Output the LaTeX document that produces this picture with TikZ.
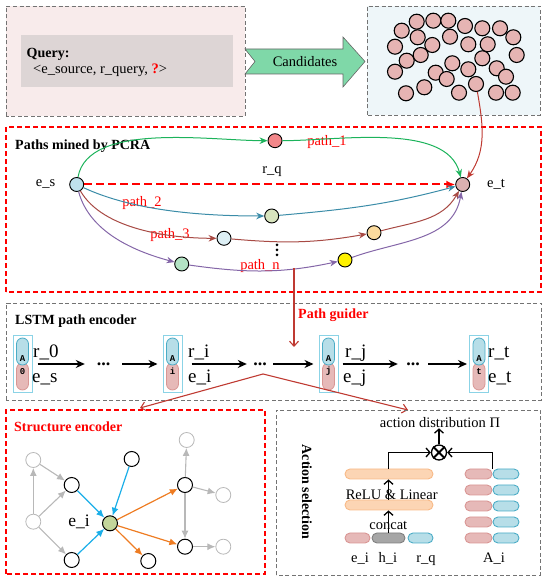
\documentclass[tikz,border=0pt]{standalone}
\usepackage{fontspec}
\setmainfont{Liberation Serif}
\setmonofont{Liberation Mono}
\usepackage{xcolor}
\usepackage{tikz}
\usetikzlibrary{arrows.meta,positioning,calc}

\definecolor{querybg}{HTML}{F8EBEB}
\definecolor{queryin}{HTML}{DDD5D5}
\definecolor{candbg}{HTML}{EEF6F9}
\definecolor{candpink}{HTML}{E6B4B3}
\definecolor{candgreen}{HTML}{7FD8A8}
\definecolor{linkred}{HTML}{BF3A32}
\definecolor{pgreen}{HTML}{1CB35B}
\definecolor{pteal}{HTML}{3B8CA8}
\definecolor{pbrown}{HTML}{A84A44}
\definecolor{ppurple}{HTML}{8466A8}
\definecolor{esblue}{HTML}{BFE1ED}
\definecolor{etpink}{HTML}{DBB1B1}
\definecolor{rqred}{HTML}{F3878A}
\definecolor{midolive}{HTML}{D8E4BE}
\definecolor{midblue}{HTML}{DDEFF5}
\definecolor{midorange}{HTML}{FBDB9E}
\definecolor{midgreen}{HTML}{B3E3C4}
\definecolor{cellline}{HTML}{8BD3E6}
\definecolor{capblue}{HTML}{B7DEE8}
\definecolor{capblueline}{HTML}{4BACC6}
\definecolor{cappink}{HTML}{E6B9B8}
\definecolor{cappinkline}{HTML}{D99694}
\definecolor{eigreen}{HTML}{C3D69B}
\definecolor{skyedge}{HTML}{1AAEE8}
\definecolor{orangeedge}{HTML}{EE7C22}
\definecolor{barorange}{HTML}{FCD5B4}
\definecolor{barorangeline}{HTML}{F8BA88}
\definecolor{bargray}{HTML}{A6A6A6}
\definecolor{bargrayline}{HTML}{7F7F7F}

\begin{document}
\begin{tikzpicture}[
      x=1pt, y=1pt, inner sep=0pt,
      font=\fontsize{14.5}{17}\selectfont,
      title/.style={font=\fontsize{14}{17}\selectfont\bfseries, anchor=base west},
      panel/.style={draw=black!55, line width=0.9pt, dash pattern=on 4pt off 2.5pt},
      redpanel/.style={draw=red, line width=1.3pt, dash pattern=on 5pt off 3pt},
      cand/.style={circle, draw=black, line width=1.1pt, fill=candpink, minimum size=15pt},
      ent/.style={circle, draw=black, line width=0.9pt, minimum size=14pt},
      plabel/.style={text=red},
      mine/.style={-{Stealth[length=8pt,width=6.5pt]}, line width=1pt},
      dashline/.style={red, line width=2pt, dash pattern=on 8pt off 4pt, -{Latex[length=9pt,width=8pt]}},
      seq/.style={-{Stealth[length=9pt,width=8pt]}, line width=1.4pt},
      gap/.style={font=\fontsize{18}{18}\selectfont\bfseries},
      cellbox/.style={draw=cellline, line width=1pt, minimum width=19pt, minimum height=57pt},
      capA/.style={draw=capblueline, fill=capblue, rounded corners=6pt, minimum width=12pt, minimum height=27pt, line width=0.8pt},
      capB/.style={draw=cappinkline, fill=cappink, rounded corners=6pt, minimum width=12pt, minimum height=27pt, line width=0.8pt},
      celltxt/.style={font=\fontsize{9}{9}\selectfont\ttfamily\bfseries},
      lbl/.style={font=\fontsize{19}{20}\selectfont, anchor=base west},
      guide/.style={linkred, line width=1.1pt, -{Straight Barb[length=5pt,width=9pt]}},
      gnode/.style={circle, draw=black!28, fill=white, minimum size=15pt, line width=0.8pt},
      bnode/.style={circle, draw=black, fill=white, minimum size=15pt, line width=1pt},
      gedge/.style={black!28, line width=1.1pt, -{Latex[length=8pt,width=7pt]}},
      bedge/.style={skyedge, line width=1.2pt, -{Latex[length=8pt,width=7pt]}},
      oedge/.style={orangeedge, line width=1.2pt, -{Latex[length=8pt,width=7pt]}},
      bar/.style={rounded corners=5pt, minimum height=10pt, line width=0.9pt},
      up/.style={-{Straight Barb[length=4pt,width=9pt]}, line width=1.3pt},
    ]
    \useasboundingbox (0,0) rectangle (550,583);

    % query and candidates
    \draw [panel, fill=querybg] (6,467) rectangle (245,577);
    \fill [queryin] (21,496) rectangle (233,548);
    \node [title] (qtitle) at (26.5,525.7) {Query:};
    \node [anchor=base west] (qtriple) at (33,509) {<e\_source, r\_query, \textcolor{red}{\textbf{?}}>};
    \draw [draw=black!60, fill=candgreen, line width=0.6pt] (245,534) -- (343,534) -- (343,546) -- (365,521.5) -- (343,496) -- (343,509) -- (245,509) -- (255,521.5) -- cycle;
    \node (candtxt) at (305,521) {Candidates};
    \draw [panel, fill=candbg] (367,468) rectangle (540,577);
    \foreach \cx/\cy [count=\k] in {416.7/561.3, 433.3/562.3, 448.3/562.3, 465/557, 482.3/554.7, 500/554.7,
        401.7/552.3, 513.3/545.7, 417.7/545.7, 450/546.3, 468.3/538.7, 487.7/538.7, 395/536.3, 432.3/538,
        516.7/528, 406.7/522.3, 420.7/528, 452.3/519.7, 482.3/524.7, 496.7/514.7, 506/506.3, 468.3/513.7,
        395/511.3, 435.7/510.3, 446.7/504, 424.3/495.7, 459/490.3, 406/489.7, 496/490.3, 512.7/490.3}
      \node [cand] (c\k) at (\cx,\cy) {};
    \node [cand] (cpick) at (476,499) {};

    % paths mined by PCRA
    \draw [redpanel] (6,291) rectangle (541,456);
    \node [title] (pcra) at (15,433) {Paths mined by PCRA};
    \node [ent, fill=esblue] (es) at (76.7,398.5) {};
    \node [ent, fill=etpink] (et) at (462.7,398.5) {};
    \node [ent, fill=rqred] (rq) at (275,442.3) {};
    \node [ent, fill=midolive] (m2) at (271.7,367) {};
    \node [ent, fill=midblue] (m3a) at (224,344.7) {};
    \node [ent, fill=midorange] (m3b) at (374,350.3) {};
    \node [ent, fill=midgreen] (m4a) at (181.7,319) {};
    \node [ent, fill=yellow] (m4b) at (345,323) {};
    \node (eslab) at (45.5,398.5) {e\_s};
    \node (etlab) at (496,399) {e\_t};
    \node (rqlab) at (272,411) {r\_q};
    \node [plabel] (p1lab) at (327,441.3) {path\_1};
    \node [plabel] (p2lab) at (142,380) {path\_2};
    \node [plabel] (p3lab) at (170,348) {path\_3};
    \node [plabel] (pnlab) at (260,317) {path\_n};
    \foreach \d in {0,1,2}
      \fill (277,338-5*\d) circle (1.5);
    \draw [mine, pgreen] (es) to [out=80, in=180, looseness=0.75] (rq);
    \draw [mine, pgreen] (rq) to [out=0, in=105, looseness=0.8] (et);
    \draw [dashline] (es) -- (et);
    \draw [mine, pteal] (es) to [out=-25, in=180, looseness=0.8] (m2);
    \draw [mine, pteal] (m2) to [out=5, in=-165] (et);
    \draw [mine, pbrown] (es) to [out=-60, in=180, looseness=0.8] (m3a);
    \draw [mine, pbrown] (m3a) to [out=-5, in=190] (m3b);
    \draw [mine, pbrown] (m3b) to [out=15, in=-120] (et);
    \draw [mine, ppurple] (es) to [out=-75, in=165, looseness=0.9] (m4a);
    \draw [mine, ppurple] (m4a) to [out=-8, in=192] (m4b);
    \draw [mine, ppurple] (m4b) to [out=20, in=-100] (et);
    \draw [mine, linkred] (cpick) to [out=-80, in=55] (et);

    % LSTM path encoder
    \draw [panel] (6,183) rectangle (541,280);
    \node [title] (lstmtitle) at (15,258) {LSTM path encoder};
    \foreach \x/\n in {22.5/0, 172.5/i, 328.5/j, 479/t} {
      \node [capB] (pb\n) at (\x,206.5) {};
      \node [capA] (pa\n) at (\x,231.5) {};
      \node [cellbox] (cell\n) at (\x,219) {};
      \node [celltxt] at (\x,224.5) {A};
      \node [celltxt] at (\x,211.5) {\n};
    }
    \node [lbl] at (33,225) {r\_0};
    \node [lbl] at (32,200) {e\_s};
    \node [lbl] at (188,225) {r\_i};
    \node [lbl] at (188,200) {e\_i};
    \node [lbl] at (345,225) {r\_j};
    \node [lbl] at (343,200) {e\_j};
    \node [lbl] at (488,225) {r\_t};
    \node [lbl] at (488,200) {e\_t};
    \node [gap, minimum width=37pt] (gap1) at (103.5,219) {...};
    \node [gap, minimum width=26pt] (gap2) at (260,219) {...};
    \node [gap, minimum width=30pt] (gap3) at (413,219) {...};
    \draw [seq, shorten <=5pt] (cell0) -- (gap1);
    \draw [seq, shorten >=5pt] (gap1) -- (celli);
    \draw [seq, shorten <=9pt] (celli) -- (gap2);
    \draw [seq, shorten >=5pt] (gap2) -- (cellj);
    \draw [seq, shorten <=4pt] (cellj) -- (gap3);
    \draw [seq, shorten >=2pt] (gap3) -- (cellt);

    % guiders
    \coordinate (guidetop) at (294,315);
    \coordinate (guidebot) at (294,236);
    \draw [guide] (guidetop) -- (guidebot);
    \node [title, text=red] (guidelab) at (298,264.7) {Path guider};
    \coordinate (split) at (263,209);
    \coordinate (toenc) at (140,175);
    \coordinate (toact) at (408,173);
    \draw [guide] (split) -- (toenc);
    \draw [guide] (split) -- (toact);

    % structure encoder
    \draw [redpanel] (6,9) rectangle (265,173);
    \node [title, text=red] (enctitle) at (14,151.3) {Structure encoder};
    \node [gnode] (g1) at (33.3,123) {};
    \node [gnode] (g2) at (33.3,61.3) {};
    \node [gnode] (g3) at (186.7,143) {};
    \node [gnode] (g4) at (223.3,88) {};
    \node [gnode] (g5) at (223.3,36.3) {};
    \node [bnode] (b1) at (71.7,98) {};
    \node [bnode] (b2) at (71.7,23) {};
    \node [bnode] (b3) at (131.7,124) {};
    \node [bnode] (b4) at (148.3,22) {};
    \node [bnode] (b5) at (185,98) {};
    \node [bnode] (b6) at (185,36.3) {};
    \node [bnode, fill=eigreen] (ei) at (110,59.7) {};
    \node [font=\fontsize{17.5}{18}\selectfont] (eilab) at (79,61) {e\_i};
    \draw [gedge] (g2) -- (g1);
    \draw [gedge] (g1) -- (b1);
    \draw [gedge] (g2) -- (b1);
    \draw [gedge] (g2) -- (b2);
    \draw [gedge] (b5) -- (g3);
    \draw [gedge] (b5) -- (g4);
    \draw [gedge] (b5) -- (b6);
    \draw [gedge] (b6) -- (g5);
    \draw [bedge] (b1) -- (ei);
    \draw [bedge] (b3) -- (ei);
    \draw [bedge] (b2) -- (ei);
    \draw [oedge] (ei) -- (b5);
    \draw [oedge] (ei) -- (b6);
    \draw [oedge] (ei) -- (b4);

    % action selection
    \draw [panel] (276,8) rectangle (540,173);
    \node [title, anchor=center, rotate=-90] (acttitle) at (307,91) {Action selection};
    \node (pi) at (440,160) {action distribution Π};
    \node [circle, draw, line width=1.3pt, minimum size=15pt] (mult) at (439,130.5) {};
    \draw [line width=1.8pt] (mult.45) -- (mult.225) (mult.135) -- (mult.315);
    \node [bar, fill=barorange, draw=barorangeline, minimum width=88pt] (relu2) at (389,109) {};
    \node [bar, fill=barorange, draw=barorangeline, minimum width=88pt] (relu1) at (389,78) {};
    \node [bar, fill=cappink, draw=cappinkline, minimum width=25pt] (vei) at (357.5,45) {};
    \node [bar, fill=bargray, draw=bargrayline, minimum width=33pt] (vhi) at (388.5,45) {};
    \node [bar, fill=capblue, draw=capblueline, minimum width=25pt] (vrq) at (420.5,45) {};
    \foreach \y [count=\k] in {109,93,77,61,45} {
      \node [bar, fill=cappink, draw=cappinkline, minimum width=27pt] (ap\k) at (478.5,\y) {};
      \node [bar, fill=capblue, draw=capblueline, minimum width=26pt] (ab\k) at (506,\y) {};
    }
    \node (concat) at (388.3,58) {concat};
    \node (relulab) at (391.7,88.7) {ReLU \& Linear};
    \node [anchor=base] (eilab2) at (360,20) {e\_i};
    \node [anchor=base] (hilab) at (388,20) {h\_i};
    \node [anchor=base] (rqlab2) at (426,20) {r\_q};
    \node [anchor=base] (ailab) at (494,20) {A\_i};
    \draw [up] (mult) -- (mult |- pi.south);
    \draw [up] (vhi.north) -- (vhi.north |- relu1.south);
    \draw [up] (relu1.north -| vhi.north) -- (relu2.south -| vhi.north);
    \draw [up] (relu2.north -| vhi.north) |- (mult.west);
    \draw [up] (ap1.north east) |- (mult.east);
  \end{tikzpicture}
\end{document}
